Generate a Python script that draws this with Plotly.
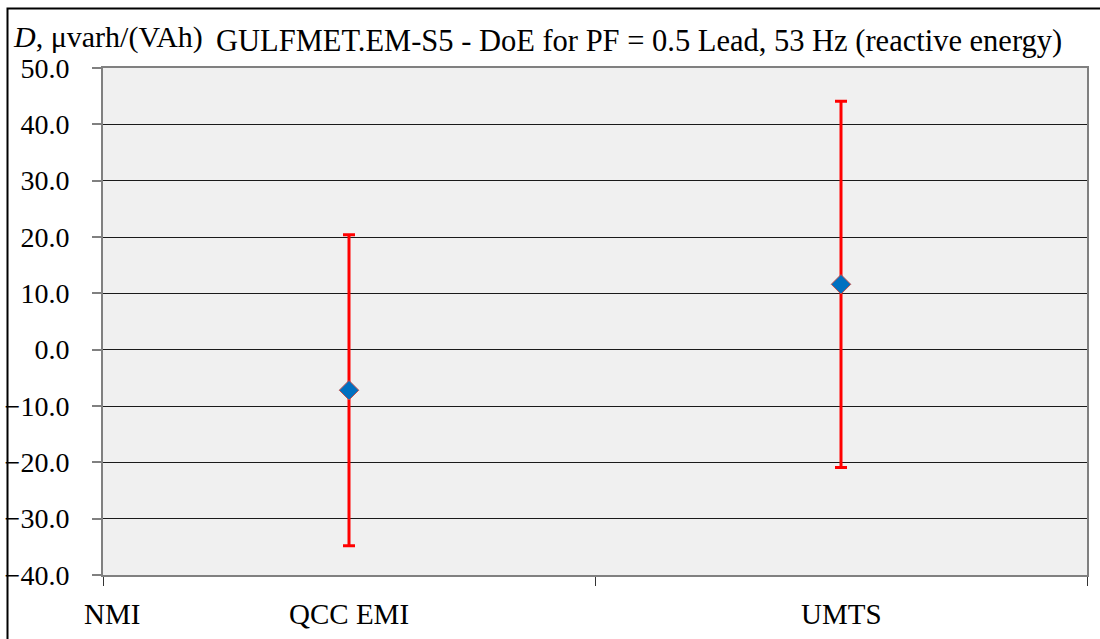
import plotly.graph_objects as go

# ---- data ----
categories = ["QCC EMI", "UMTS"]
degree_of_equivalence = [-7.2, 11.6]
expanded_uncertainty = [27.6, 32.5]
y_tick_values = [-40, -30, -20, -10, 0, 10, 20, 30, 40, 50]
reference_label = "NMI"
title_text = "GULFMET.EM-S5 - DoE for PF = 0.5 Lead, 53 Hz (reactive energy)"
y_title_text = "<i>D</i>, μvarh/(VAh)"

W, H = 1100, 639
L, R, T, B = 103, 13, 68, 64
pw, ph = W - L - R, H - T - B

FONT = "Liberation Serif"

x_pos = [i + 0.5 for i in range(len(categories))]

fig = go.Figure()
fig.add_trace(go.Scatter(
    x=x_pos, y=degree_of_equivalence, mode="markers",
    marker=dict(symbol="diamond", size=15, color="#0070C0",
                line=dict(color="#C0504D", width=1)),
    error_y=dict(type="data", array=expanded_uncertainty, visible=True,
                 color="#FF0000", thickness=3, width=6),
    showlegend=False, hoverinfo="skip",
))

fig.update_layout(
    width=W, height=H,
    margin=dict(l=L, r=R, t=T, b=B, pad=0, autoexpand=False),
    paper_bgcolor="white", plot_bgcolor="#F0F0F0",
    font=dict(family=FONT, size=26, color="black"),
    showlegend=False,
)

fig.update_xaxes(
    range=[0, len(categories)], tickvals=list(range(len(categories) + 1)),
    ticktext=["" for _ in range(len(categories) + 1)],
    ticks="outside", ticklen=9, tickcolor="#333333", tickwidth=1,
    showgrid=False, zeroline=False, automargin=False,
    showline=True, linecolor="#808080", linewidth=2, mirror=True,
)
fig.update_yaxes(
    range=[-40, 50], tickvals=y_tick_values, tickformat=".1f",
    ticks="outside", ticklen=9, tickcolor="#808080", tickwidth=2,
    ticklabelstandoff=17, automargin=False,
    showgrid=True, gridcolor="#1a1a1a", gridwidth=1, zeroline=False,
    showline=True, linecolor="#808080", linewidth=2, mirror=True,
    tickfont=dict(family=FONT, size=28, color="black"),
)

# category labels
for xp, cat in zip(x_pos, categories):
    fig.add_annotation(x=xp, y=0, xref="x", yref="paper", text=cat,
                       showarrow=False, xanchor="center", yanchor="middle",
                       yshift=-(614 - (T + ph)),
                       font=dict(family=FONT, size=29, color="black"))
fig.add_annotation(x=0, y=0, xref="x", yref="paper", text=reference_label,
                   showarrow=False, xanchor="left", yanchor="middle",
                   xshift=-21, yshift=-(614 - (T + ph)),
                   font=dict(family=FONT, size=29, color="black"))

# title and y-axis title
fig.add_annotation(x=(214 - L) / pw, y=1 + (T - 41) / ph, xref="paper", yref="paper",
                   text=title_text, showarrow=False, xanchor="left", yanchor="middle",
                   font=dict(family=FONT, size=30.5, color="black"))
fig.add_annotation(x=(11 - L) / pw, y=1 + (T - 37) / ph, xref="paper", yref="paper",
                   text=y_title_text, showarrow=False, xanchor="left", yanchor="middle",
                   font=dict(family=FONT, size=30, color="black"))

# outer frame
fig.add_shape(type="rect", xref="paper", yref="paper",
              x0=(7.5 - L) / pw, x1=(W + 20 - L) / pw,
              y0=-(H + 20 - T - ph) / ph, y1=1 + (T - 8.5) / ph,
              line=dict(color="black", width=2), fillcolor="rgba(0,0,0,0)",
              layer="below")

fig.write_html(
    "out.html",
    config={"displayModeBar": False},
    post_script="document.body.style.margin='0';document.body.style.overflow='hidden';",
)
